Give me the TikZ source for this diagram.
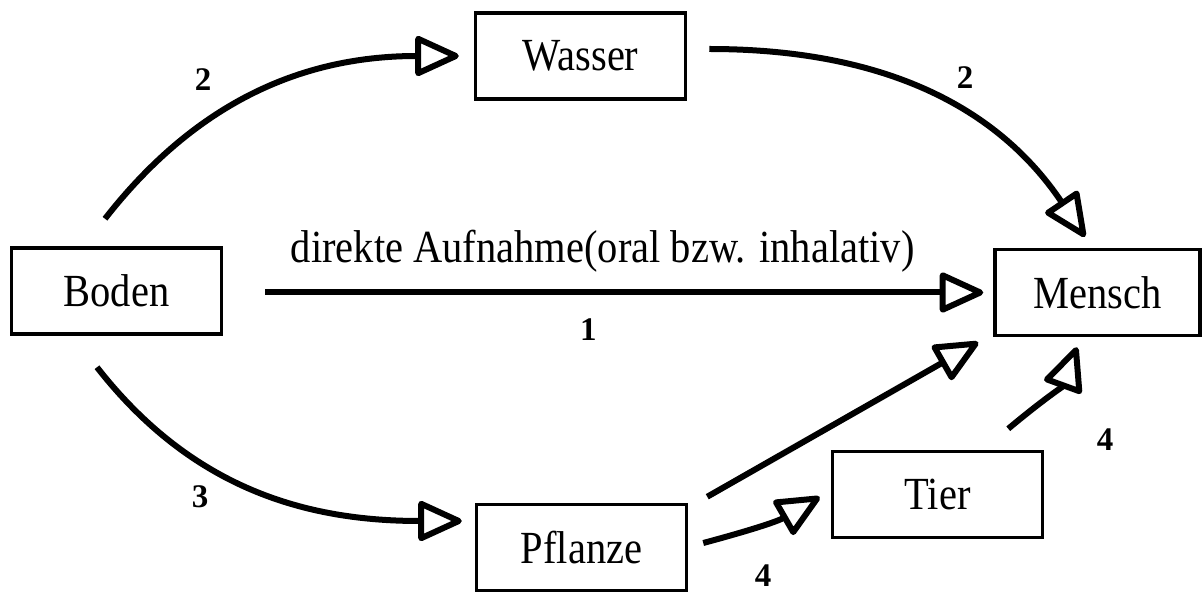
\documentclass[tikz,border=0pt]{standalone}
\usepackage{fontspec}
\setmainfont{Liberation Serif}
\newfontfamily\narrowfont[FakeStretch=0.88]{Liberation Serif}
\usetikzlibrary{arrows.meta}

\begin{document}
\begin{tikzpicture}[x=1pt,y=1pt,
	box/.style={draw,line width=3.5pt,minimum width=210pt,minimum height=86pt,inner sep=0pt,
		font=\narrowfont\fontsize{46}{50}\selectfont},
	flow/.style={line width=6pt,arrows={-Triangle[open,length=48pt,width=42pt,round]}},
	num/.style={font=\fontsize{33}{36}\selectfont\bfseries,inner sep=0pt}]
	\useasboundingbox (0,0) rectangle (1203,595);
	% Kaesten
	\node[box] (boden) at (116.5,304) {Boden};
	\node[box] (wasser) at (580.5,539) {Wasser};
	\node[box,minimum width=205pt] (mensch) at (1097.5,302.5) {Mensch};
	\node[box] (pflanze) at (581.5,47.5) {Pflanze};
	\node[box] (tier) at (937.5,100.5) {Tier};
	% Pfade
	\draw[flow] ([shift={(-11.5,27.5)}]boden.north) to[out=52,in=180] ([shift={(-15,0)}]wasser.west);
	\draw[flow] ([shift={(22,7)}]wasser.east) to[out=0,in=124] ([shift={(-12.5,11)}]mensch.north);
	\draw[flow] ([shift={(42,-1.5)}]boden.east) --
		node[pos=0.47,above=17pt,inner sep=0pt,font=\narrowfont\fontsize{46}{50}\selectfont] (direkt) {direkte Aufnahme(oral bzw. inhalativ)}
		node[num,pos=0.45,below=23pt] (n1) {1}
		([shift={(-10,0)}]mensch.west);
	\draw[flow] ([shift={(-19.5,-31.5)}]boden.south) to[out=-52,in=180] ([shift={(-13,26.5)}]pflanze.west);
	\draw[flow] ([shift={(19,6)}]pflanze.north east) -- ([shift={(-15,-5)}]mensch.south west);
	\draw[flow] ([shift={(15,4.5)}]pflanze.east) to[out=15,in=210] ([shift={(-11,-2.5)}]tier.west);
	\draw[flow] ([shift={(-36,21)}]tier.north east) to[out=40,in=250] ([shift={(-20.5,-10)}]mensch.south);
	% Zahlen
	\node[num] (n2a) at (203,515) {2};
	\node[num] (n2b) at (965,517) {2};
	\node[num] (n3) at (200,98) {3};
	\node[num] (n4a) at (1105,155) {4};
	\node[num] (n4b) at (763,19) {4};
\end{tikzpicture}
\end{document}
